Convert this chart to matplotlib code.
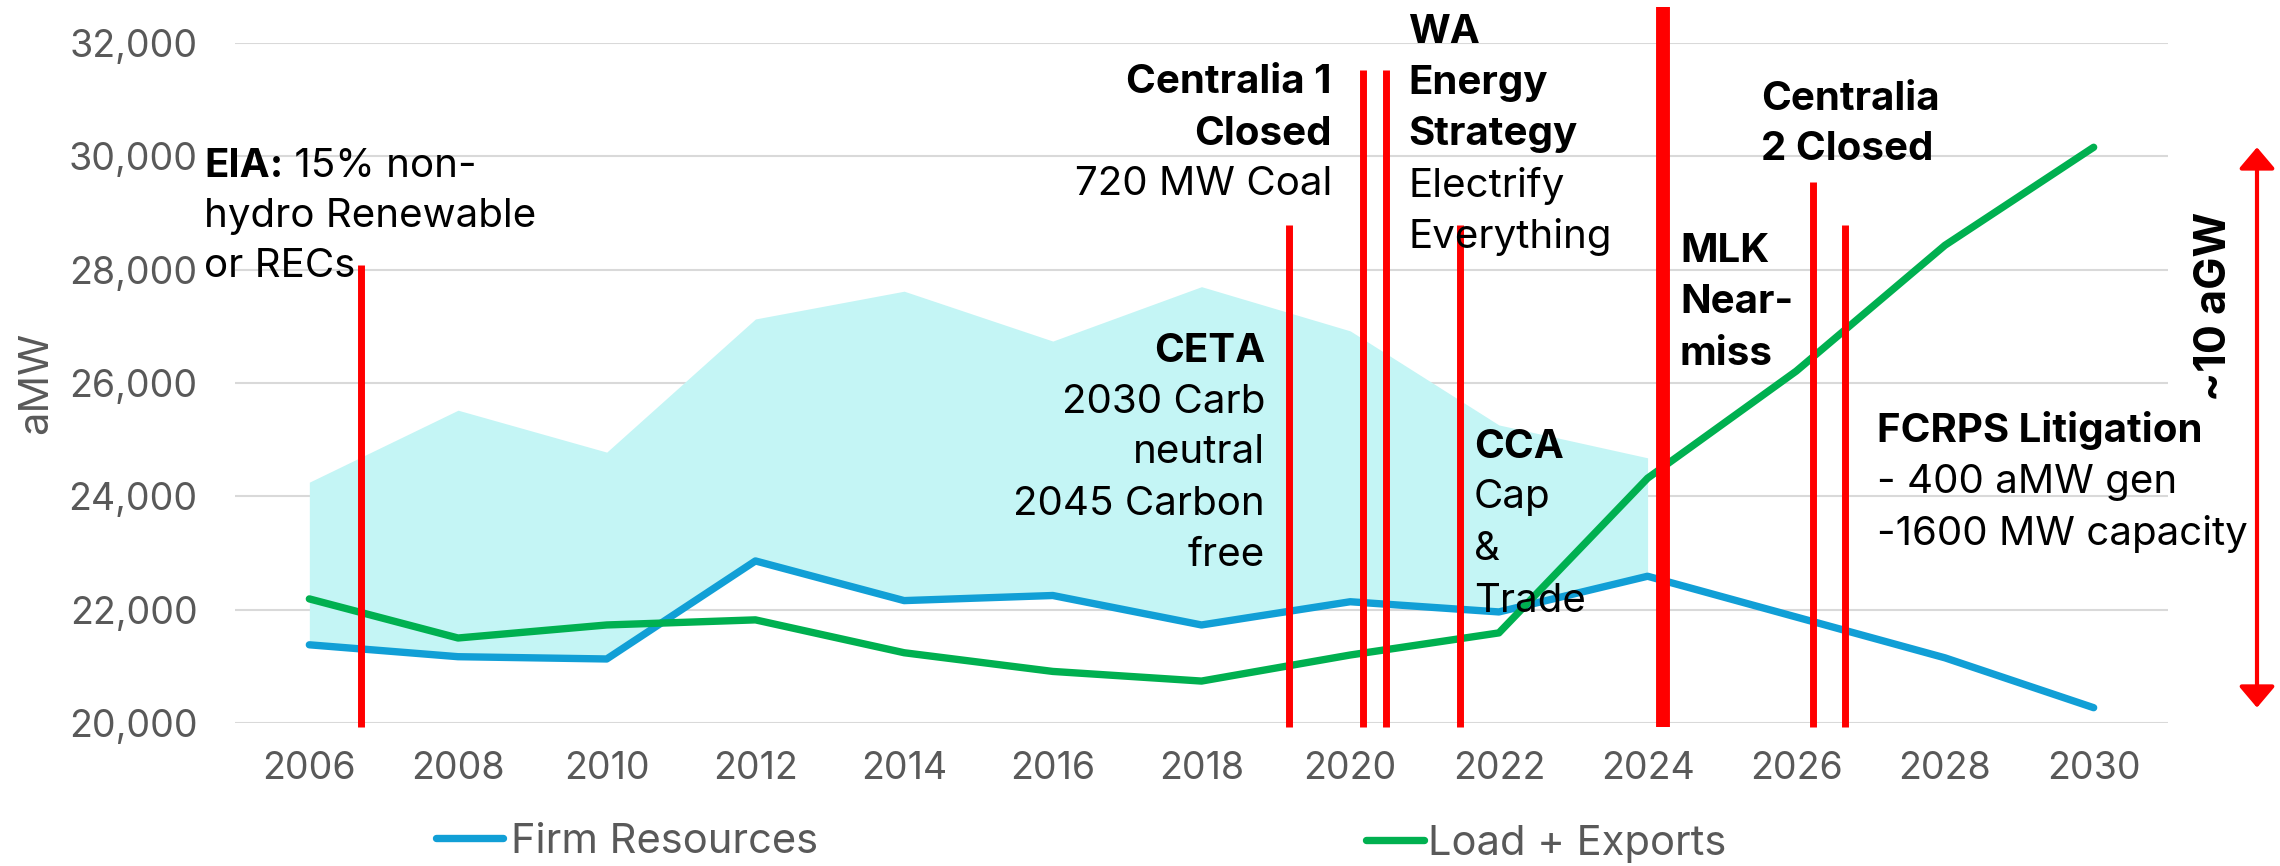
import numpy as np
import matplotlib.pyplot as plt

plt.rcParams['font.family'] = ['Inter', 'DejaVu Sans']

# Data (aMW)
years = [2006, 2008, 2010, 2012, 2014, 2016, 2018, 2020, 2022, 2024, 2026, 2028, 2030]
firm_resources = [21380, 21170, 21130, 22860, 22160, 22250, 21730, 22140, 21960, 22590, 21870, 21150, 20270]
load_exports = [22190, 21500, 21730, 21820, 21240, 20910, 20740, 21200, 21590, 24320, 26210, 28430, 30160]

# upper edge of the shaded band (lower edge follows firm resources)
band_years = years[:10]
band_top = [24250, 25520, 24780, 27130, 27620, 26740, 27700, 26920, 25260, 24680]

# event markers (year position, top of the red line)
event_years = [2006.69, 2019.18, 2020.17, 2020.48, 2021.48, 2026.22, 2026.65]
event_tops = [28080, 28790, 31520, 31520, 28790, 29550, 28790]
mlk_year = 2024.21
mlk_top = 32630
event_base = 19930

y_ticks = [20000, 22000, 24000, 26000, 28000, 30000, 32000]

BLUE = '#119FD6'
GREEN = '#00B050'
CYAN = '#C4F5F5'
RED = '#FF0000'
GRAY = '#595959'

W, H = 2280, 866
fig = plt.figure(figsize=(W / 100, H / 100), dpi=100)
ax = fig.add_axes([235 / W, 1 - 723 / H, 1933 / W, 680 / H])

ax.fill_between(band_years, firm_resources[:10], band_top, color=CYAN, lw=0, zorder=1)
h1, = ax.plot(years, firm_resources, color=BLUE, lw=5.3, zorder=2,
              solid_capstyle='round', solid_joinstyle='round', label='Firm Resources')
h2, = ax.plot(years, load_exports, color=GREEN, lw=5.3, zorder=2,
              solid_capstyle='round', solid_joinstyle='round', label='Load + Exports')

ax.vlines(event_years, event_base, event_tops, colors=RED, lw=5, zorder=3, clip_on=False)
ax.vlines([mlk_year], event_base, [mlk_top], colors=RED, lw=10, zorder=3, clip_on=False)

ax.set_xlim(2005, 2031)
ax.set_ylim(20000, 32000)
ax.set_xticks(years)
ax.set_yticks(y_ticks)
ax.set_yticklabels([f'{v:,}' for v in y_ticks])
ax.tick_params(axis='x', length=0, pad=20, labelsize=27, labelcolor=GRAY)
ax.tick_params(axis='y', length=0, pad=27, labelsize=27, labelcolor=GRAY)
ax.yaxis.grid(True, color='#D9D9D9', lw=1.5)
ax.set_axisbelow(True)
for s in ax.spines.values():
    s.set_visible(False)

fig.text(36 / W, 1 - 383 / H, 'aMW', rotation=90, ha='center', va='center',
         fontsize=30, color=GRAY)

# double arrow between the 2030 values
ax.annotate('', xy=(2257 / W, load_exports[-1]), xytext=(2257 / W, firm_resources[-1]),
            xycoords=('figure fraction', 'data'), textcoords=('figure fraction', 'data'),
            arrowprops=dict(arrowstyle='<|-|>,head_length=0.65,head_width=0.55',
                            mutation_scale=20, color=RED, lw=3, shrinkA=0, shrinkB=0),
            annotation_clip=False)
fig.text(2214 / W, 1 - 306 / H, '~10 aGW', rotation=90, ha='center', va='center',
         fontsize=31, fontweight='bold')


def label(x, y, s, bold=False, ha='left'):
    return fig.text(x / W, 1 - y / H, s, fontsize=29, ha=ha, va='baseline',
                    fontweight='bold' if bold else 'normal', zorder=10)


t = label(204, 177, 'EIA:', bold=True)
ax.annotate(' 15% non-', xy=(1, 0), xycoords=t, ha='left', va='bottom',
            fontsize=29, annotation_clip=False, zorder=10)
label(204, 227, 'hydro Renewable')
label(204, 277, 'or RECs')

label(1332, 93, 'Centralia 1', bold=True, ha='right')
label(1332, 145, 'Closed', bold=True, ha='right')
label(1332, 195, '720 MW Coal', ha='right')

label(1408, 43, 'WA', bold=True)
label(1408, 94, 'Energy', bold=True)
label(1408, 145, 'Strategy', bold=True)
label(1408, 197, 'Electrify')
label(1408, 248, 'Everything')

label(1265, 362, 'CETA', bold=True, ha='right')
label(1265, 413, '2030 Carb', ha='right')
label(1265, 463, 'neutral', ha='right')
label(1265, 515, '2045 Carbon', ha='right')
label(1265, 566, 'free', ha='right')

label(1474, 458, 'CCA', bold=True)
label(1474, 508, 'Cap')
label(1474, 560, '&')
label(1474, 612, 'Trade')

label(1680, 262, 'MLK', bold=True)
label(1680, 313, 'Near-', bold=True)
label(1680, 365, 'miss', bold=True)

label(1761, 110, 'Centralia', bold=True)
label(1761, 160, '2 Closed', bold=True)

label(1877, 442, 'FCRPS Litigation', bold=True)
label(1877, 493, '- 400 aMW gen')
label(1877, 545, '-1600 MW capacity')

fig.legend(handles=[h1], loc='center left', bbox_to_anchor=(436 / W, 1 - 842 / H),
           frameon=False, fontsize=30, labelcolor=GRAY, handlelength=1.6,
           handletextpad=0.2, borderpad=0, borderaxespad=0)
fig.legend(handles=[h2], loc='center left', bbox_to_anchor=(1366 / W, 1 - 844 / H),
           frameon=False, fontsize=30, labelcolor=GRAY, handlelength=1.38,
           handletextpad=0.1, borderpad=0, borderaxespad=0)

fig.savefig('out.png', dpi=100)
